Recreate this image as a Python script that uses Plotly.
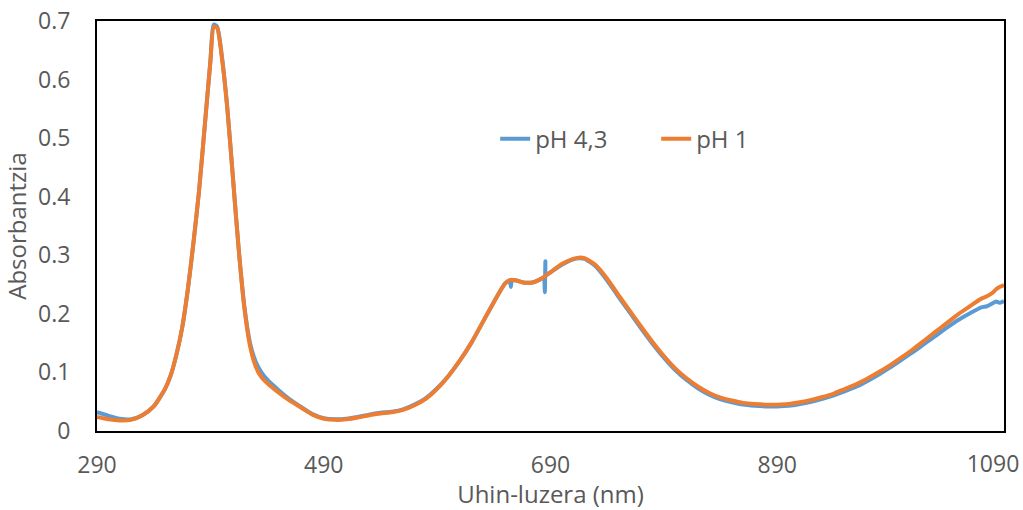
import plotly.graph_objects as go

wl_orange = [290, 300, 310, 320, 330, 340, 350, 355, 360, 365, 370, 375, 380, 385, 390, 393, 396,
             400, 405, 410, 415, 420, 425, 430, 435, 440, 450, 460, 470, 480, 490, 500, 510, 520,
             530, 540, 550, 560, 570, 580, 590, 600, 610, 620, 630, 640, 650, 655, 660, 665, 670,
             675, 680, 685, 690, 700, 710, 715, 720, 730, 740, 750, 760, 770, 780, 790, 800, 810,
             820, 830, 840, 850, 860, 870, 880, 890, 900, 910, 920, 930, 940, 950, 960, 970, 980,
             990, 1000, 1010, 1020, 1030, 1040, 1050, 1060, 1070, 1075, 1080, 1083, 1086, 1090]
abs_ph1 = [0.024, 0.020, 0.018, 0.019, 0.027, 0.042, 0.072, 0.095, 0.13, 0.175, 0.24, 0.32, 0.41,
           0.52, 0.63, 0.69, 0.688, 0.64, 0.55, 0.43, 0.31, 0.21, 0.145, 0.11, 0.092, 0.082, 0.066,
           0.052, 0.04, 0.028, 0.021, 0.019, 0.02, 0.023, 0.027, 0.030, 0.032, 0.036, 0.044, 0.055,
           0.072, 0.094, 0.12, 0.15, 0.185, 0.22, 0.252, 0.258, 0.257, 0.254, 0.253, 0.254, 0.258,
           0.264, 0.271, 0.285, 0.294, 0.296, 0.295, 0.283, 0.26, 0.232, 0.205, 0.178, 0.152,
           0.128, 0.107, 0.09, 0.076, 0.065, 0.057, 0.052, 0.048, 0.046, 0.045, 0.045, 0.046,
           0.049, 0.053, 0.058, 0.064, 0.072, 0.080, 0.090, 0.101, 0.113, 0.126, 0.140, 0.155,
           0.170, 0.185, 0.20, 0.213, 0.226, 0.230, 0.236, 0.242, 0.246, 0.249]

wl_blue = [290, 300, 310, 320, 330, 340, 350, 355, 360, 365, 370, 375, 380, 385, 390, 393, 396,
           400, 405, 410, 415, 420, 425, 430, 435, 440, 450, 460, 470, 480, 490, 500, 510, 520,
           530, 540, 550, 560, 570, 580, 590, 600, 610, 620, 630, 640, 650, 654, 655, 656, 660,
           665, 670, 675, 680, 684, 685, 685.5, 686, 690, 700, 710, 715, 720, 730, 740, 750, 760,
           770, 780, 790, 800, 810, 820, 830, 840, 850, 860, 870, 880, 890, 900, 910, 920, 930,
           940, 950, 960, 970, 980, 990, 1000, 1010, 1020, 1030, 1040, 1050, 1060, 1070, 1075,
           1080, 1083, 1086, 1090]
abs_ph43 = [0.032, 0.026, 0.021, 0.020, 0.027, 0.042, 0.072, 0.095, 0.13, 0.175, 0.24, 0.32, 0.41,
            0.52, 0.632, 0.694, 0.69, 0.642, 0.55, 0.43, 0.31, 0.212, 0.15, 0.118, 0.1, 0.088,
            0.07, 0.054, 0.041, 0.029, 0.022, 0.020, 0.021, 0.024, 0.028, 0.031, 0.033, 0.037,
            0.045, 0.056, 0.073, 0.094, 0.12, 0.15, 0.185, 0.22, 0.252, 0.257, 0.246, 0.257,
            0.257, 0.254, 0.253, 0.254, 0.258, 0.262, 0.237, 0.29, 0.266, 0.271, 0.284, 0.293,
            0.295, 0.294, 0.281, 0.257, 0.229, 0.202, 0.175, 0.149, 0.125, 0.104, 0.087, 0.073,
            0.062, 0.054, 0.049, 0.045, 0.043, 0.042, 0.042, 0.043, 0.046, 0.050, 0.055, 0.061,
            0.068, 0.076, 0.086, 0.097, 0.109, 0.122, 0.135, 0.149, 0.163, 0.177, 0.190, 0.201,
            0.211, 0.213, 0.218, 0.221, 0.219, 0.222]

x_ticks = [290, 490, 690, 890]
x_ticks_last = [1090]
y_ticks = [0, 0.1, 0.2, 0.3, 0.4, 0.5, 0.6, 0.7]
y_tick_text = ["0", "0.1", "0.2", "0.3", "0.4", "0.5", "0.6", "0.7"]
x_range = [290, 1090]

FONT = "Open Sans, Lato, sans-serif"
GREY = "#595959"

fig = go.Figure()
fig.add_trace(go.Scatter(x=wl_blue, y=abs_ph43, mode="lines", name="pH 4,3",
                         line=dict(color="#5B9BD5", width=4, shape="spline", smoothing=0.6)))
fig.add_trace(go.Scatter(x=wl_orange, y=abs_ph1, mode="lines", name="pH 1", xaxis="x2",
                         line=dict(color="#ED7D31", width=4, shape="spline", smoothing=0.6)))

fig.update_layout(
    width=1023, height=510,
    margin=dict(l=97, r=19, t=21, b=79),
    paper_bgcolor="white", plot_bgcolor="white",
    font=dict(family=FONT, size=23, color=GREY),
    showlegend=True,
    legend=dict(orientation="h", x=0.439, y=0.712, xanchor="left", yanchor="middle",
                bgcolor="rgba(0,0,0,0)", font=dict(size=24, color=GREY),
                entrywidth=116, entrywidthmode="pixels", tracegroupgap=0),
    xaxis=dict(range=x_range, tickvals=x_ticks, ticktext=[str(v) for v in x_ticks],
               showgrid=False, zeroline=False, showline=True, linecolor="black", linewidth=2,
               mirror=True, ticks="", ticklabelstandoff=12, ticklabeloverflow="allow",
               automargin=False, tickfont=dict(size=23, color=GREY),
               title=dict(text="Uhin-luzera (nm)", standoff=6, font=dict(size=24, color=GREY))),
    xaxis2=dict(range=x_range, overlaying="x", side="bottom", anchor="y",
                tickvals=x_ticks_last, ticktext=[str(v) for v in x_ticks_last],
                showgrid=False, zeroline=False, showline=False, ticks="",
                ticklabelstandoff=17, ticklabelshift=-11, ticklabeloverflow="allow",
                automargin=False, tickfont=dict(size=23, color=GREY)),
    yaxis=dict(range=[0, 0.7], tickvals=y_ticks, ticktext=y_tick_text,
               showgrid=False, zeroline=False, showline=True, linecolor="black", linewidth=2,
               mirror=True, ticks="", ticklabelstandoff=20, ticklabeloverflow="allow",
               automargin=False, tickfont=dict(size=23, color=GREY),
               title=dict(text="Absorbantzia", standoff=10, font=dict(size=24, color=GREY))),
)

fig.write_html("out.html")
